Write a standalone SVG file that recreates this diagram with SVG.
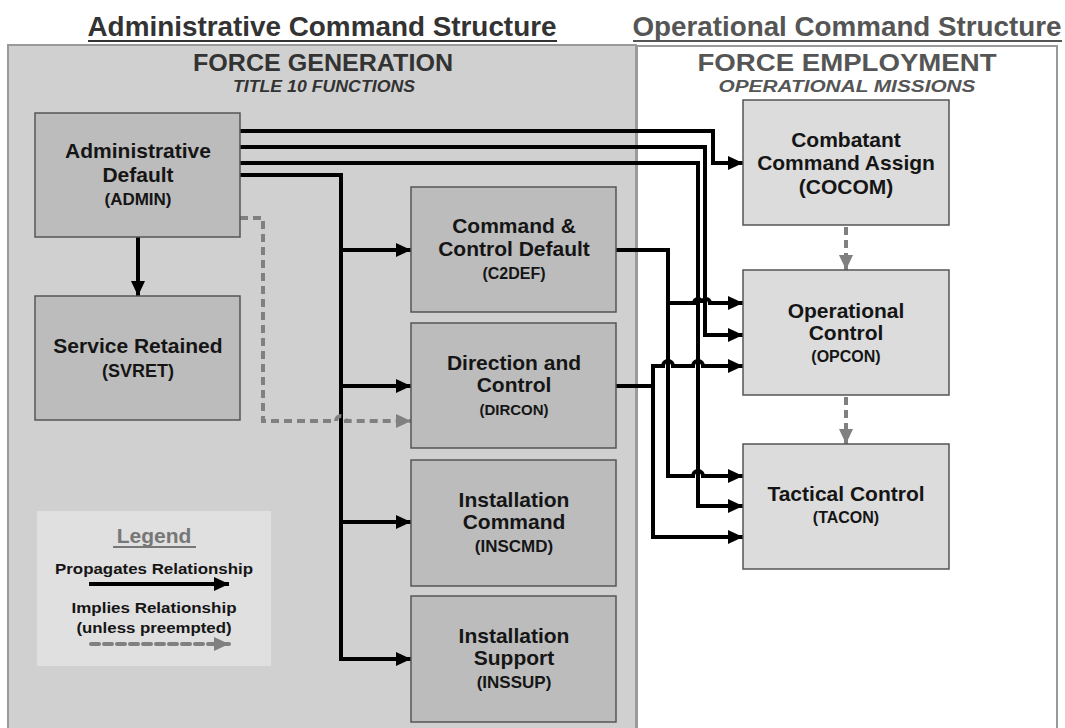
<svg xmlns="http://www.w3.org/2000/svg" width="1065" height="728" viewBox="0 0 1065 728">
<defs>
<style>
.t{font-family:"Liberation Sans",Arial,sans-serif;font-weight:bold;text-anchor:middle;fill:#151515}
.m{font-size:21px}
.lnode{fill:#bcbcbc;stroke:#555;stroke-width:1.5}
.rnode{fill:#dcdcdc;stroke:#555;stroke-width:1.5}
.c{fill:none;stroke:#000;stroke-width:4}
.d{fill:none;stroke:#808080;stroke-width:4;stroke-dasharray:8 5}
</style>
<marker id="ah" markerUnits="userSpaceOnUse" markerWidth="16" markerHeight="16" refX="15" refY="8" orient="auto"><path d="M0,1 L15,8 L0,15 z" fill="#000"/></marker>
<marker id="ahg" markerUnits="userSpaceOnUse" markerWidth="16" markerHeight="16" refX="15" refY="8" orient="auto"><path d="M0,1 L15,8 L0,15 z" fill="#808080"/></marker>
</defs>
<rect width="1065" height="728" fill="#fff"/>
<g id="panels">
<rect x="8" y="45" width="628" height="700" fill="#d0d0d0" stroke="#9a9a9a" stroke-width="2"/>
<rect x="637" y="46" width="420" height="700" fill="#fff" stroke="#9a9a9a" stroke-width="2"/>
<text class="t" x="322" y="36" font-size="28" style="fill:#333" textLength="469" lengthAdjust="spacingAndGlyphs">Administrative Command Structure</text>
<line x1="88" y1="41" x2="557" y2="41" stroke="#333" stroke-width="2"/>
<text class="t" x="847" y="36" font-size="28" style="fill:#555" textLength="429" lengthAdjust="spacingAndGlyphs">Operational Command Structure</text>
<line x1="633" y1="41" x2="1062" y2="41" stroke="#555" stroke-width="2"/>
<text class="t" x="323" y="71" font-size="24" style="fill:#333" textLength="260" lengthAdjust="spacingAndGlyphs">FORCE GENERATION</text>
<text class="t" x="324" y="92" font-size="16" font-style="italic" style="fill:#333" textLength="182" lengthAdjust="spacingAndGlyphs">TITLE 10 FUNCTIONS</text>
<text class="t" x="847" y="71" font-size="24" style="fill:#555" textLength="299" lengthAdjust="spacingAndGlyphs">FORCE EMPLOYMENT</text>
<text class="t" x="847" y="92" font-size="16" font-style="italic" style="fill:#555" textLength="257" lengthAdjust="spacingAndGlyphs">OPERATIONAL MISSIONS</text>
</g>
<g id="legend">
<rect x="37" y="511" width="234" height="155" fill="#e0e0e0"/>
<text class="t" x="154" y="543" font-size="21" style="fill:#777">Legend</text>
<line x1="113" y1="547" x2="196" y2="547" stroke="#777" stroke-width="2"/>
<text class="t" x="154" y="574" font-size="14" textLength="198" lengthAdjust="spacingAndGlyphs">Propagates Relationship</text>
<path class="c" d="M89 584 H229" stroke-width="3" marker-end="url(#ah)"/>
<text class="t" x="154" y="613" font-size="14" textLength="165" lengthAdjust="spacingAndGlyphs">Implies Relationship</text>
<text class="t" x="154" y="633" font-size="14" textLength="155" lengthAdjust="spacingAndGlyphs">(unless preempted)</text>
<path class="d" d="M91 644 H229" stroke-width="4" stroke-linecap="round" marker-end="url(#ahg)"/>
</g>
<g id="connectors">
<path class="c" d="M240 131 H713 V163 H743" marker-end="url(#ah)"/>
<path class="c" d="M240 147 H705 V335 H743" marker-end="url(#ah)"/>
<path class="c" d="M240 163 H698 V506 H743" marker-end="url(#ah)"/>
<path class="c" d="M240 175 H341 V659 H411" marker-end="url(#ah)"/>
<path class="c" d="M341 250 H411" marker-end="url(#ah)"/>
<path class="c" d="M341 386 H411" marker-end="url(#ah)"/>
<path class="c" d="M341 522 H411" marker-end="url(#ah)"/>
<path class="c" d="M138 237 V296" marker-end="url(#ah)"/>
<path class="c" d="M616 250 H668 V476 H693 A5 5 0 0 1 703 476 H743" marker-end="url(#ah)"/>
<path class="c" d="M668 303 H694 A4 4 0 0 1 702 303 A4 4 0 0 1 710 303 H743" marker-end="url(#ah)"/>
<path class="c" d="M616 386 H653 V537 H743" marker-end="url(#ah)"/>
<path class="c" d="M653 388 V366 H663 A5 5 0 0 1 673 366 H693 A5 5 0 0 1 703 366 H743" marker-end="url(#ah)"/>
<path class="d" d="M240 218 H263 V421 H336 A5 5 0 0 1 346 421 H411" marker-end="url(#ahg)"/>
<path class="d" d="M846 227 V270" marker-end="url(#ahg)"/>
<path class="d" d="M846 397 V444" marker-end="url(#ahg)"/>
</g>
<g id="admin">
<rect class="lnode" x="35" y="113" width="205" height="124"/>
<text class="t m" x="138" y="158">Administrative</text>
<text class="t m" x="138" y="182">Default</text>
<text class="t" x="138" y="205" font-size="17">(ADMIN)</text>
</g>
<g id="svret">
<rect class="lnode" x="35" y="296" width="205" height="124"/>
<text class="t m" x="138" y="353">Service Retained</text>
<text class="t" x="138" y="377" font-size="18">(SVRET)</text>
</g>
<g id="c2def">
<rect class="lnode" x="411" y="187" width="205" height="125"/>
<text class="t m" x="514" y="233">Command &amp;</text>
<text class="t m" x="514" y="256">Control Default</text>
<text class="t" x="514" y="279" font-size="16">(C2DEF)</text>
</g>
<g id="dircon">
<rect class="lnode" x="411" y="323" width="205" height="125"/>
<text class="t m" x="514" y="370">Direction and</text>
<text class="t m" x="514" y="392">Control</text>
<text class="t" x="514" y="415" font-size="15">(DIRCON)</text>
</g>
<g id="inscmd">
<rect class="lnode" x="411" y="460" width="205" height="126"/>
<text class="t m" x="514" y="507">Installation</text>
<text class="t m" x="514" y="529">Command</text>
<text class="t" x="514" y="552" font-size="17">(INSCMD)</text>
</g>
<g id="inssup">
<rect class="lnode" x="411" y="596" width="205" height="126"/>
<text class="t m" x="514" y="643">Installation</text>
<text class="t m" x="514" y="665">Support</text>
<text class="t" x="514" y="688" font-size="17">(INSSUP)</text>
</g>
<g id="cocom">
<rect class="rnode" x="743" y="100" width="206" height="125"/>
<text class="t m" x="846" y="147">Combatant</text>
<text class="t m" x="846" y="170">Command Assign</text>
<text class="t m" x="846" y="194">(COCOM)</text>
</g>
<g id="opcon">
<rect class="rnode" x="743" y="270" width="206" height="125"/>
<text class="t m" x="846" y="318">Operational</text>
<text class="t m" x="846" y="340">Control</text>
<text class="t" x="846" y="362" font-size="16">(OPCON)</text>
</g>
<g id="tacon">
<rect class="rnode" x="743" y="444" width="206" height="125"/>
<text class="t m" x="846" y="501">Tactical Control</text>
<text class="t" x="846" y="523" font-size="16">(TACON)</text>
</g>
</svg>
